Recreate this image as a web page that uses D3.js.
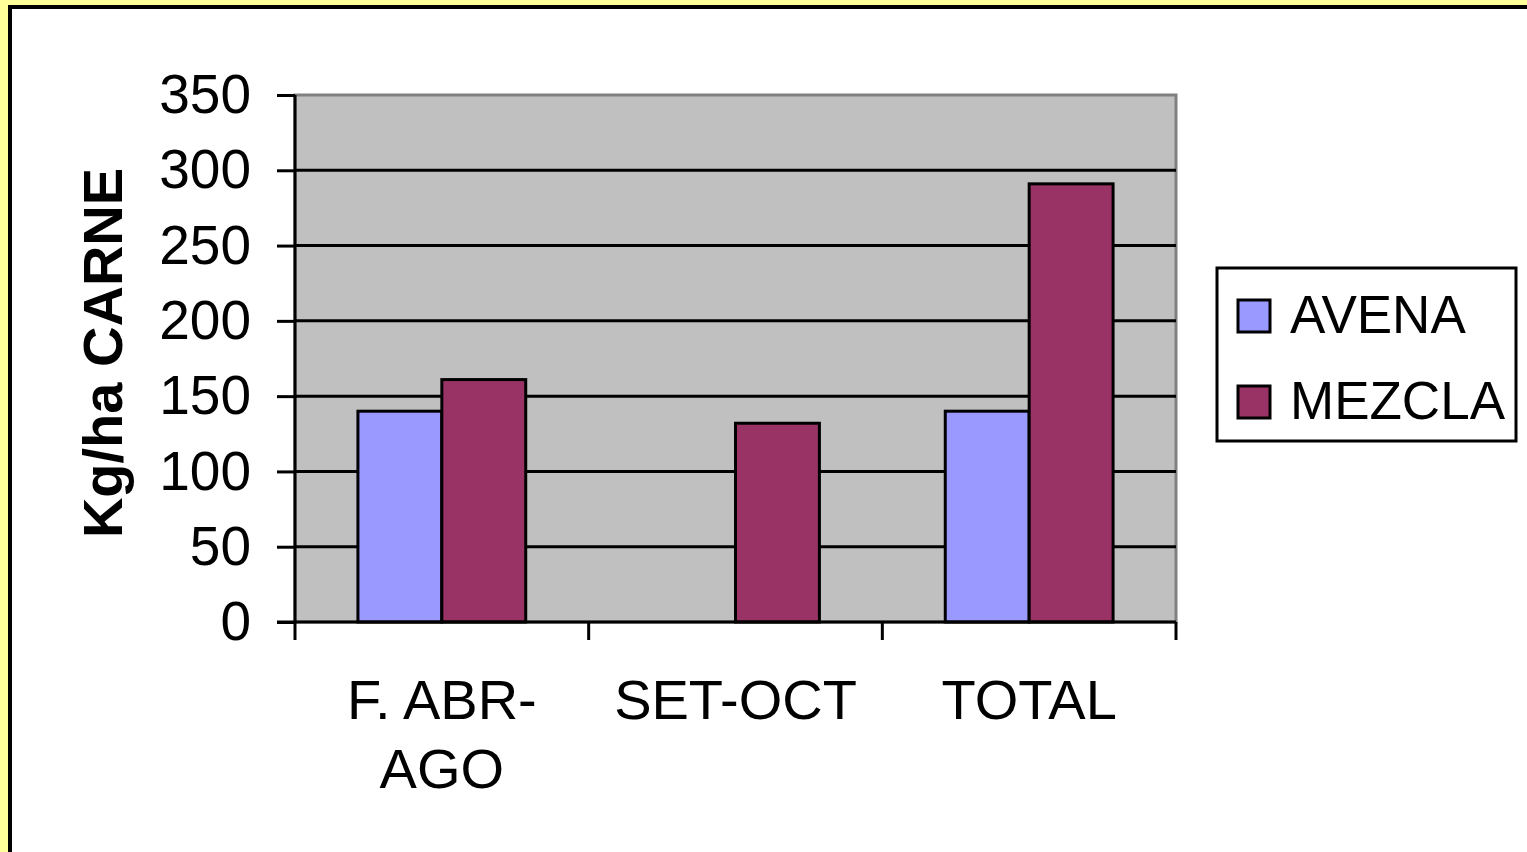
<!DOCTYPE html>
<html>
<head>
<meta charset="utf-8">
<script src="https://cdn.jsdelivr.net/npm/d3@7"></script>
<style>
  html, body { margin: 0; padding: 0; background: #FFFF99; overflow: hidden; }
  svg { display: block; font-family: "Liberation Sans", Arial, sans-serif; }
</style>
</head>
<body>
<svg id="chart" width="1527" height="852"></svg>
<script>
// Producción de carne por período (kg/ha)
const categories = [["F. ABR-", "AGO"], ["SET-OCT"], ["TOTAL"]];
const categoryKeys = ["F. ABR-AGO", "SET-OCT", "TOTAL"];
const seriesNames = ["AVENA", "MEZCLA"];
const avena = [140, 0, 140];
const mezcla = [161, 132, 291];
const yTicks = [0, 50, 100, 150, 200, 250, 300, 350];
const colors = ["#9999FF", "#993366"];

const svg = d3.select("#chart");

// Marco exterior blanco con borde negro
svg.append("rect")
  .attr("x", 10).attr("y", 7)
  .attr("width", 1620).attr("height", 900)
  .attr("fill", "#FFFFFF").attr("stroke", "#000").attr("stroke-width", 4);

const plot = { left: 295, right: 1176, top: 95, bottom: 622 };

const x = d3.scaleBand().domain(categoryKeys).range([plot.left, plot.right]);
const y = d3.scaleLinear().domain([0, 350]).range([plot.bottom, plot.top]);

// Área del gráfico
svg.append("rect")
  .attr("x", plot.left).attr("y", plot.top)
  .attr("width", plot.right - plot.left).attr("height", plot.bottom - plot.top)
  .attr("fill", "#C0C0C0").attr("stroke", "#808080").attr("stroke-width", 3);

// Líneas de división
svg.append("g").selectAll("line")
  .data(yTicks.filter(t => t > 0 && t < 350))
  .join("line")
  .attr("x1", plot.left).attr("x2", plot.right)
  .attr("y1", d => y(d)).attr("y2", d => y(d))
  .attr("stroke", "#000").attr("stroke-width", 3);

// Barras
const inner = d3.scaleBand().domain(seriesNames)
  .range([0, x.bandwidth()]).paddingOuter(0.75).paddingInner(0);
const seriesData = [avena, mezcla];

seriesNames.forEach((name, si) => {
  svg.append("g").selectAll("rect")
    .data(categoryKeys.map((c, i) => ({ c, v: seriesData[si][i] })).filter(d => d.v > 0))
    .join("rect")
    .attr("x", d => x(d.c) + inner(name))
    .attr("width", inner.bandwidth())
    .attr("y", d => y(d.v))
    .attr("height", d => y(0) - y(d.v))
    .attr("fill", colors[si])
    .attr("stroke", "#000").attr("stroke-width", 3);
});

// Eje Y
const yAxis = d3.axisLeft(y).tickValues(yTicks).tickSize(18).tickPadding(26);
const gy = svg.append("g").attr("transform", `translate(${plot.left},0)`).call(yAxis);
gy.select(".domain").attr("stroke", "#000").attr("stroke-width", 3).attr("d", `M0,${plot.top}V${plot.bottom}`);
gy.selectAll(".tick line").attr("stroke", "#000").attr("stroke-width", 3);
gy.selectAll(".tick text").attr("font-size", 55).attr("fill", "#000")
  .attr("font-family", "Liberation Sans, Arial, sans-serif");

// Eje X
const xTickPos = [plot.left, ...categoryKeys.map(c => x(c) + x.bandwidth())];
svg.append("line")
  .attr("x1", plot.left - 18).attr("x2", plot.right)
  .attr("y1", plot.bottom).attr("y2", plot.bottom)
  .attr("stroke", "#000").attr("stroke-width", 3);
svg.append("g").selectAll("line").data(xTickPos).join("line")
  .attr("x1", d => d).attr("x2", d => d)
  .attr("y1", plot.bottom).attr("y2", plot.bottom + 18)
  .attr("stroke", "#000").attr("stroke-width", 3);

const xl = svg.append("g").selectAll("text").data(categoryKeys).join("text")
  .attr("text-anchor", "middle")
  .attr("font-size", 56).attr("fill", "#000")
  .attr("x", d => x(d) + x.bandwidth() / 2)
  .attr("y", 719);
xl.each(function (d, i) {
  d3.select(this).selectAll("tspan").data(categories[i]).join("tspan")
    .attr("x", x(d) + x.bandwidth() / 2)
    .attr("dy", (t, j) => j === 0 ? 0 : 69)
    .text(t => t);
});

// Título del eje Y
svg.append("text")
  .attr("transform", `translate(122,353) rotate(-90)`)
  .attr("text-anchor", "middle")
  .attr("font-size", 56).attr("font-weight", "bold").attr("fill", "#000")
  .text("Kg/ha CARNE");

// Leyenda
const lg = svg.append("g");
lg.append("rect")
  .attr("x", 1217).attr("y", 268).attr("width", 299).attr("height", 173)
  .attr("fill", "#FFFFFF").attr("stroke", "#000").attr("stroke-width", 3);
seriesNames.forEach((name, i) => {
  const cy = 316 + i * 86;
  lg.append("rect")
    .attr("x", 1238).attr("y", cy - 16).attr("width", 32).attr("height", 32)
    .attr("fill", colors[i]).attr("stroke", "#000").attr("stroke-width", 3);
  lg.append("text")
    .attr("x", 1290).attr("y", cy + 17)
    .attr("font-size", 53).attr("fill", "#000")
    .text(name);
});
</script>
</body>
</html>
